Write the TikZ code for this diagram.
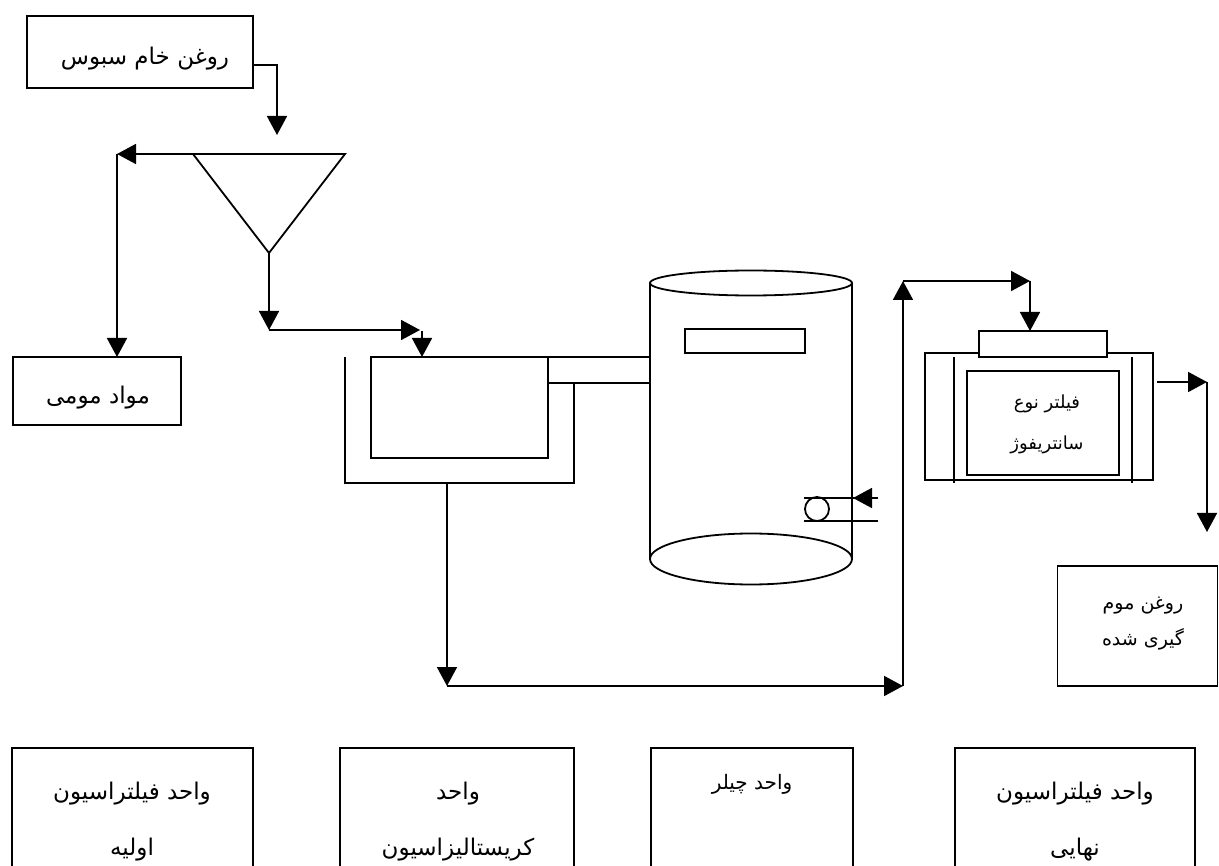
\documentclass[tikz,border=0pt]{standalone}
\usepackage{fontspec}
\TeXXeTstate=1
\newfontfamily\fa[Script=Arabic]{DejaVu Sans}
\usetikzlibrary{arrows.meta}
\begin{document}
\begin{tikzpicture}[x=1pt,y=-1pt,
  ln/.style={line width=1.8pt},
  arr/.style={ln,-{Triangle[length=19pt,width=20pt]}},
  bx/.style={draw,ln,inner sep=0pt,outer sep=0pt},
  big/.style={font=\fa\fontsize{23}{56}\selectfont,align=center,inner sep=0pt},
  mid/.style={font=\fa\fontsize{18}{41}\selectfont,align=center,inner sep=0pt},
  sml/.style={font=\fa\fontsize{19}{36}\selectfont,align=center,inner sep=0pt}]
\useasboundingbox (0,0) rectangle (1219,866);

% boxes
\node[bx,minimum width=226pt,minimum height=72pt] (raw) at (140,52) {};
\node[big] (rawt) at (145,59) {\beginR روغن خام سبوس\endR};
\node[bx,minimum width=168pt,minimum height=68pt] (wax) at (97,391) {};
\node[big] (waxt) at (98,398) {\beginR مواد مومی\endR};

% funnel
\coordinate (tl) at (193,154);
\coordinate (tr) at (345,154);
\coordinate (ap) at (269,253);
\draw[ln] (tl) -- (tr) -- (ap) -- cycle;
\coordinate (in1) at (277,135);
\draw[arr] (raw.east |- 0,65) -| (in1);
\coordinate (wl) at (117,154);
\draw[arr] (tl) -- (wl);
\draw[arr] (wl) -- (wl |- wax.north);
\coordinate (a1) at (269,330);
\draw[arr] (ap) -- (a1);
\coordinate (a2) at (420,330);
\draw[arr] (a1) -- (a2);

% crystallizer
\node[bx,minimum width=177pt,minimum height=101pt] (cry) at (459.5,407.5) {};
\coordinate (a3) at (422,331);
\draw[arr] (a3) -- (a3 |- cry.north);
\draw[ln] (345,357) |- (574,483) -- (574,383);
\draw[ln] (cry.north east) -- (650,357);
\draw[ln] (548,383) -- (650,383);

% chiller cylinder
\draw[ln] (751,283) ellipse (101 and 12.5);
\draw[ln] (751,559) ellipse (101 and 25.5);
\draw[ln] (650,283) -- (650,559);
\draw[ln] (852,283) -- (852,559);
\draw[ln] (685,329) rectangle (805,353);
\draw[ln] (817,509) circle (12);
\draw[ln] (804,498) -- (878,498);
\draw[ln] (804,521) -- (878,521);
\coordinate (c1) at (878,498);
\coordinate (c2) at (853,498);
\draw[arr] (c1) -- (c2);

% main return line
\coordinate (d0) at (447,483);
\coordinate (d1) at (447,686);
\coordinate (d2) at (903,686);
\coordinate (d3) at (903,281);
\coordinate (d4) at (1030,281);
\coordinate (d5) at (1030,331);
\draw[arr] (d0) -- (d1);
\draw[arr] (d1) -- (d2);
\draw[arr] (d2) -- (d3);
\draw[arr] (d3) -- (d4);
\draw[arr] (d4) -- (d5);

% centrifuge filter
\draw[ln] (925,353) rectangle (1153,480);
\draw[ln] (954,357) -- (954,483);
\draw[ln] (1132,357) -- (1132,483);
\draw[ln,fill=white] (979,331) rectangle (1107,357);
\node[bx,minimum width=152pt,minimum height=104pt] (flt) at (1043,423) {};
\node[mid] (fltt) at (1047,424) {\beginR فیلتر نوع\endR\\\beginR سانتریفوژ\endR};
\coordinate (o1) at (1157,382);
\coordinate (o2) at (1207,382);
\coordinate (o3) at (1207,532);
\draw[arr] (o1) -- (o2);
\draw[arr] (o2) -- (o3);

% product box
\node[bx,minimum width=160pt,minimum height=120pt] (prod) at (1137.5,626) {};
\node[sml] (prodt) at (1143,624) {\beginR روغن موم\endR\\\beginR گیری شده\endR};

% bottom unit boxes
\draw[ln] (12,866) |- (253,748) -- (253,866);
\draw[ln] (340,866) |- (574,748) -- (574,866);
\draw[ln] (651,866) |- (853,748) -- (853,866);
\draw[ln] (955,866) |- (1195,748) -- (1195,866);
\node[big] (u1) at (132,822) {\beginR واحد فیلتراسیون\endR\\\beginR اولیه\endR};
\node[big] (u2) at (458,822) {\beginR واحد\endR\\\beginR کریستالیزاسیون\endR};
\node[font=\fa\fontsize{20}{24}\selectfont,inner sep=0pt] (u3) at (752,784) {\beginR واحد چیلر\endR};
\node[big] (u4) at (1075,822) {\beginR واحد فیلتراسیون\endR\\\beginR نهایی\endR};
\end{tikzpicture}
\end{document}
